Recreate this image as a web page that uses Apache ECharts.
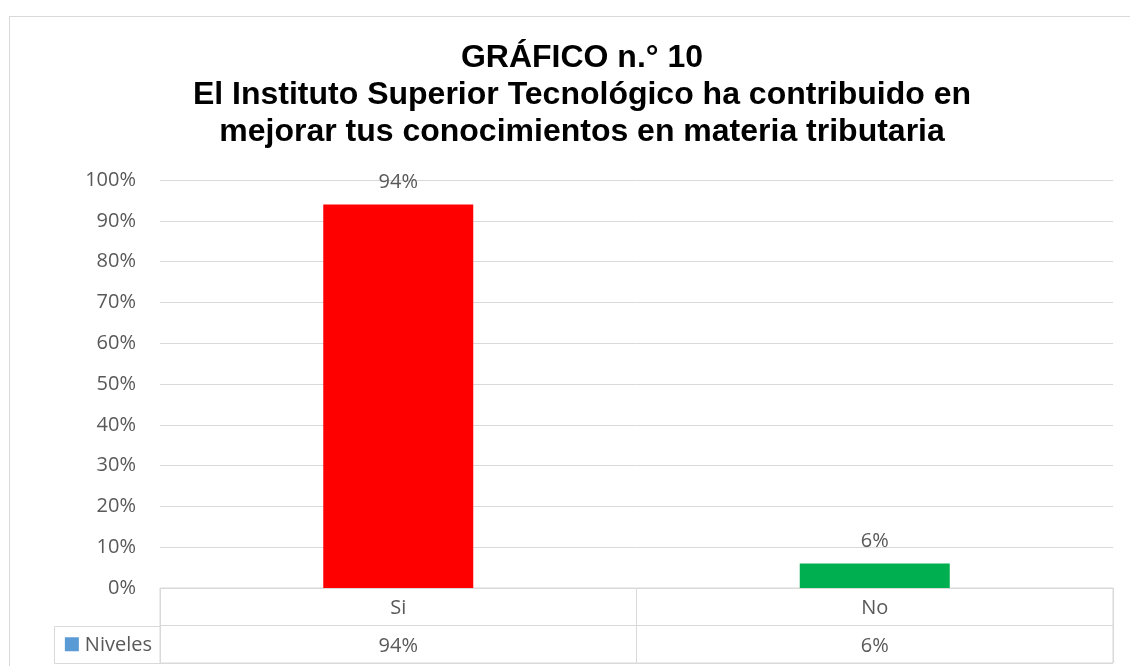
<!DOCTYPE html>
<html>
<head>
<meta charset="utf-8">
<script src="https://cdn.jsdelivr.net/npm/echarts@6/dist/echarts.min.js"></script>
<style>
  html, body { margin: 0; padding: 0; background: #fff; }
  #chart { width: 1130px; height: 666px; }
</style>
</head>
<body>
<div id="chart"></div>
<script>
// datos del gráfico
var categories = ['Si', 'No'];
var values = [94, 6];
var seriesName = 'Niveles';
var barColors = ['#FF0000', '#00B050'];
var titleLines = [
  'GRÁFICO n.° 10',
  'El Instituto Superior Tecnológico ha contribuido en',
  'mejorar tus conocimientos en materia tributaria'
];

var gray = '#595959';
var lineGray = '#d9d9d9';
var labelFont = 'Open Sans';

var chart = echarts.init(document.getElementById('chart'));

var option = {
  animation: false,
  backgroundColor: '#fff',
  title: {
    text: titleLines.join('\n'),
    left: 577,
    top: 35,
    textAlign: 'center',
    textStyle: {
      fontFamily: 'Liberation Sans',
      fontWeight: 'bold',
      fontSize: 32,
      lineHeight: 37,
      color: '#000'
    }
  },
  graphic: [
    {
      type: 'rect',
      shape: { x: 9.5, y: 16.5, width: 1140, height: 700 },
      style: { fill: 'none', stroke: lineGray, lineWidth: 1 },
      silent: true
    },
    {
      type: 'rect',
      shape: { x: 54.5, y: 626.5, width: 106, height: 37 },
      style: { fill: 'none', stroke: lineGray, lineWidth: 1 },
      silent: true
    }
  ],
  grid: [
    { left: 160, right: 17, top: 180, height: 408 },
    { left: 160, right: 17, top: 588, height: 75, show: true, borderColor: lineGray, borderWidth: 1 }
  ],
  xAxis: [
    {
      type: 'category',
      gridIndex: 0,
      data: categories,
      axisLine: { lineStyle: { color: lineGray } },
      axisTick: { show: false },
      axisLabel: { color: gray, fontFamily: labelFont, fontSize: 20, margin: 10 }
    },
    {
      type: 'category',
      gridIndex: 1,
      data: categories,
      axisLine: { show: false },
      axisTick: { show: false },
      axisLabel: { show: false },
      splitLine: { show: true, lineStyle: { color: lineGray } }
    }
  ],
  yAxis: [
    {
      type: 'value',
      gridIndex: 0,
      min: 0,
      max: 100,
      interval: 10,
      axisLine: { show: false },
      axisTick: { show: false },
      splitLine: { lineStyle: { color: lineGray } },
      axisLabel: {
        formatter: '{value}%',
        color: gray, fontFamily: labelFont, fontSize: 20, margin: 24
      }
    },
    {
      type: 'category',
      gridIndex: 1,
      inverse: true,
      data: ['', seriesName],
      axisLine: { show: false },
      axisTick: { show: false },
      splitLine: { show: true, lineStyle: { color: lineGray } },
      axisLabel: {
        margin: 8,
        formatter: function (v) {
          return v ? '{sq|}{t|' + v + '}' : '';
        },
        rich: {
          sq: { width: 14, height: 14, backgroundColor: '#5B9BD5' },
          t: { color: gray, fontFamily: labelFont, fontSize: 20, padding: [2, 0, 0, 6] }
        }
      }
    }
  ],
  series: [
    {
      name: seriesName,
      type: 'bar',
      xAxisIndex: 0,
      yAxisIndex: 0,
      barWidth: 150,
      data: values.map(function (v, i) {
        return { value: v, itemStyle: { color: barColors[i] } };
      }),
      label: {
        show: true,
        position: 'top',
        distance: 12,
        formatter: '{c}%',
        color: gray,
        fontFamily: labelFont,
        fontSize: 20
      }
    },
    {
      name: seriesName + ' tabla',
      type: 'scatter',
      xAxisIndex: 1,
      yAxisIndex: 1,
      symbolSize: 0,
      itemStyle: { opacity: 1 },
      data: categories.map(function (c, i) { return [c, seriesName, values[i]]; }),
      label: {
        show: true,
        position: 'inside',
        offset: [0, 2],
        formatter: function (p) { return p.value[2] + '%'; },
        color: gray,
        opacity: 1,
        fontFamily: labelFont,
        fontSize: 20
      }
    }
  ]
};

chart.setOption(option);
</script>
</body>
</html>
